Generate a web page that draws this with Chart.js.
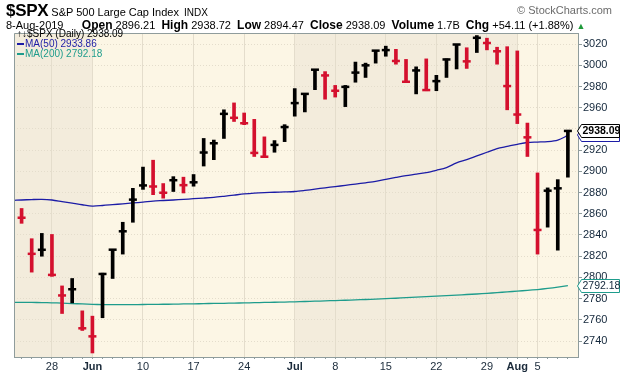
<!DOCTYPE html>
<html>
<head>
<meta charset="utf-8">
<title>$SPX Daily</title>
<script src="https://cdn.jsdelivr.net/npm/chart.js@4.4.0/dist/chart.umd.min.js"></script>
<style>
  html, body { margin: 0; padding: 0; background: #fff; }
  #wrap { position: relative; width: 620px; height: 376px; font-family: "Liberation Sans", Arial, sans-serif; color: #000; }
  #priceChart { position: absolute; left: 0; top: 0; }
  .hdr { position: absolute; white-space: nowrap; }
  #title { left: 6px; top: 1px; font-size: 11px; }
  #title .sym { font-size: 17px; font-weight: bold; letter-spacing: -0.3px; }
  #title .exch { font-size: 10px; margin-left: 5px; }
  #brand { right: 8px; top: 4px; font-size: 11px; color: #6b6b6b; }
  #quote { left: 6px; top: 18px; font-size: 11px; }
  #quote b { font-size: 12px; }
  #quote .up { color: #1f9a3a; font-size: 9px; }
  #legend { left: 17px; top: 29px; font-size: 10px; line-height: 10px; }
  #legend .mark { display: inline-block; width: 7px; height: 2px; vertical-align: middle; margin-right: 1px; }
</style>
</head>
<body>
<div id="wrap">
  <canvas id="priceChart" width="620" height="376"></canvas>
  <div class="hdr" id="title"><span class="sym">$SPX</span> S&amp;P 500 Large Cap Index<span class="exch">INDX</span></div>
  <div class="hdr" id="brand">© StockCharts.com</div>
  <div class="hdr" id="quote">8-Aug-2019 &nbsp; &nbsp; &nbsp;<b>Open</b> 2896.21 &nbsp;<b>High</b> 2938.72 &nbsp;<b>Low</b> 2894.47 &nbsp;<b>Close</b> 2938.09 &nbsp;<b>Volume</b> 1.7B &nbsp;<b>Chg</b> +54.11 (+1.88%) <span class="up">▲</span></div>
  <div class="hdr" id="legend">
    <div>↑↓$SPX (Daily) 2938.09</div>
    <div style="color:#1c1ca6"><span class="mark" style="background:#1c1ca6"></span>MA(50) 2933.86</div>
    <div style="color:#1e9c8c"><span class="mark" style="background:#1e9c8c"></span>MA(200) 2792.18</div>
  </div>
</div>

<script>
// Trading days shown on the chart (22-May-2019 .. 8-Aug-2019)
const dates = [
    'May 22', 'May 23', 'May 24', 'May 28', 'May 29', 'May 30', 'May 31',
    'Jun 3', 'Jun 4', 'Jun 5', 'Jun 6', 'Jun 7', 'Jun 10', 'Jun 11', 'Jun 12', 'Jun 13', 'Jun 14',
    'Jun 17', 'Jun 18', 'Jun 19', 'Jun 20', 'Jun 21', 'Jun 24', 'Jun 25', 'Jun 26', 'Jun 27', 'Jun 28',
    'Jul 1', 'Jul 2', 'Jul 3', 'Jul 5', 'Jul 8', 'Jul 9', 'Jul 10', 'Jul 11', 'Jul 12',
    'Jul 15', 'Jul 16', 'Jul 17', 'Jul 18', 'Jul 19', 'Jul 22', 'Jul 23', 'Jul 24', 'Jul 25', 'Jul 26',
    'Jul 29', 'Jul 30', 'Jul 31', 'Aug 1', 'Aug 2', 'Aug 5', 'Aug 6', 'Aug 7', 'Aug 8'
];

const highs = [
    2865.0, 2836.5, 2841.5, 2840.5, 2792.0, 2799.0, 2768.5,
    2763.5, 2804.0, 2826.5, 2852.0, 2884.0, 2904.0, 2910.5, 2888.5, 2895.0, 2894.5,
    2897.0, 2931.0, 2929.5, 2958.0, 2964.5, 2955.0, 2949.0, 2932.5, 2929.0, 2944.0,
    2978.0, 2973.0, 2996.0, 2994.0, 2981.0, 2981.0, 3003.0, 3002.0, 3014.0,
    3018.0, 3015.0, 3005.5, 2998.5, 3006.0, 2990.5, 3006.0, 3019.5, 3016.5, 3028.0,
    3025.5, 3017.0, 3017.5, 3013.5, 2945.5, 2898.5, 2884.4, 2892.2, 2938.7
];

const lows = [
    2851.0, 2805.0, 2820.0, 2801.0, 2766.0, 2776.0, 2750.0,
    2728.8, 2762.0, 2799.0, 2822.0, 2852.0, 2883.0, 2878.0, 2874.7, 2881.0, 2879.6,
    2886.0, 2905.0, 2911.0, 2931.0, 2947.0, 2944.0, 2914.0, 2913.0, 2918.0, 2928.0,
    2952.0, 2956.0, 2977.0, 2968.0, 2970.0, 2961.0, 2984.0, 2988.5, 3002.0,
    3008.5, 3001.0, 2984.3, 2973.0, 2976.0, 2976.0, 2988.5, 2996.5, 2997.0, 3012.0,
    3014.5, 3001.0, 2958.0, 2945.0, 2914.0, 2822.0, 2847.4, 2825.7, 2894.5
];

const closes = [
    2856.27, 2822.24, 2826.06, 2802.39, 2783.02, 2788.86, 2752.06,
    2744.45, 2803.27, 2826.15, 2843.49, 2873.34, 2886.73, 2885.72, 2879.84, 2891.64, 2886.98,
    2889.67, 2917.75, 2926.46, 2954.18, 2950.46, 2945.35, 2917.38, 2913.78, 2924.92, 2941.76,
    2964.33, 2973.01, 2995.82, 2990.41, 2975.95, 2979.63, 2993.07, 2999.91, 3013.77,
    3014.30, 3004.04, 2984.42, 2995.11, 2976.61, 2985.03, 3005.47, 3019.56, 3003.67, 3025.86,
    3020.97, 3013.18, 2980.38, 2953.56, 2932.05, 2844.74, 2881.77, 2883.98, 2938.09
];

// close of the session before the first bar (first bar is a down day)
const priorClose = 2864.36;

// moving averages; the first value belongs to the session before the first bar
// (its line runs in from the left edge of the plot)
const ma50 = [
    2872.6,
    2873.0, 2873.4, 2873.6, 2873.0, 2871.5, 2870.0, 2868.5,
    2867.3, 2867.8, 2868.6, 2869.4, 2870.2, 2871.0, 2872.0, 2872.5, 2873.0, 2873.6,
    2874.2, 2874.8, 2875.5, 2876.5, 2877.6, 2878.7, 2879.5, 2880.0, 2880.3, 2880.6,
    2881.0, 2882.0, 2883.2, 2884.5, 2885.6, 2886.8, 2888.0, 2889.2, 2890.5,
    2892.5, 2894.3, 2896.0, 2897.3, 2898.8, 2901.0, 2903.5, 2908.0, 2911.0, 2914.5,
    2918.0, 2921.5, 2923.5, 2925.5, 2927.2, 2927.6, 2928.0, 2929.5, 2933.86
];

const ma200 = [
    2776.6,
    2776.5, 2776.4, 2776.3, 2776.1, 2775.8, 2775.4, 2775.0,
    2774.6, 2774.4, 2774.3, 2774.3, 2774.4, 2774.5, 2774.6, 2774.7, 2774.8, 2775.0,
    2775.1, 2775.3, 2775.5, 2775.6, 2775.8, 2776.0, 2776.2, 2776.4, 2776.6, 2776.8,
    2777.0, 2777.3, 2777.6, 2777.9, 2778.2, 2778.5, 2778.8, 2779.2, 2779.6,
    2780.0, 2780.4, 2780.9, 2781.4, 2781.9, 2782.4, 2782.9, 2783.4, 2783.9, 2784.4,
    2785.0, 2785.7, 2786.4, 2787.1, 2787.8, 2788.6, 2789.6, 2790.8, 2792.18
];

const yTicks = [2740, 2760, 2780, 2800, 2820, 2840, 2860, 2880, 2900, 2920, 2940, 2960, 2980, 3000, 3020];
const xTickIdx = [3, 7, 12, 17, 22, 27, 31, 36, 41, 46, 49, 51];
const xTickText = ['28', 'Jun', '10', '17', '24', 'Jul', '8', '15', '22', '29', 'Aug', '5'];
const monthStarts = [7, 27, 49];

const FONT = '"Liberation Sans", Arial, sans-serif';
const RED = '#d4102e';
const BLACK = '#000000';
const GRID = '#e4ddcc';
const AXIS = '#8f9c9c';
const SHADE_DARK = '#f3ecdc';
const SHADE_LIGHT = '#fcf6e5';

const barColors = closes.map(function(c, i) {
    const prev = i === 0 ? priorClose : closes[i - 1];
    return c < prev ? RED : BLACK;
});

// alternating month shading behind the plot
const monthShading = {
    id: 'monthShading',
    beforeDraw(chart) {
        const { ctx, chartArea, scales } = chart;
        const edges = [scales.x.min].concat(monthStarts, [scales.x.max]);
        ctx.save();
        for (let k = 0; k < edges.length - 1; k++) {
            const x0 = scales.x.getPixelForValue(edges[k]);
            const x1 = scales.x.getPixelForValue(edges[k + 1]);
            ctx.fillStyle = k % 2 === 0 ? SHADE_DARK : SHADE_LIGHT;
            ctx.fillRect(x0, chartArea.top, x1 - x0, chartArea.bottom - chartArea.top);
        }
        ctx.restore();
    }
};

// left and top frame lines
const plotFrame = {
    id: 'plotFrame',
    afterDatasetsDraw(chart) {
        const { ctx, chartArea } = chart;
        ctx.save();
        ctx.strokeStyle = AXIS;
        ctx.lineWidth = 1;
        ctx.beginPath();
        ctx.moveTo(chartArea.left + 0.5, chartArea.bottom);
        ctx.lineTo(chartArea.left + 0.5, chartArea.top + 0.5);
        ctx.lineTo(chartArea.right, chartArea.top + 0.5);
        ctx.stroke();
        ctx.restore();
    }
};

// value tags on the right axis
function drawTag(ctx, x, y, text, color, bold) {
    const w = 38, h = 13;
    ctx.beginPath();
    ctx.moveTo(x - 4, y);
    ctx.lineTo(x, y - h / 2);
    ctx.lineTo(x + w, y - h / 2);
    ctx.lineTo(x + w, y + h / 2);
    ctx.lineTo(x, y + h / 2);
    ctx.closePath();
    ctx.fillStyle = '#ffffff';
    ctx.fill();
    ctx.strokeStyle = color;
    ctx.lineWidth = 1;
    ctx.stroke();
    ctx.fillStyle = bold ? '#000000' : '#12263a';
    ctx.font = (bold ? 'bold 10.5px ' : '10.5px ') + FONT;
    ctx.textBaseline = 'middle';
    ctx.textAlign = 'left';
    ctx.fillText(text, x + 1, y + 0.5);
}

const valueTags = {
    id: 'valueTags',
    afterDraw(chart) {
        const { ctx, chartArea, scales } = chart;
        const x = chartArea.right + 3.5;
        const last = closes.length - 1;
        ctx.save();
        drawTag(ctx, x, Math.round(scales.y.getPixelForValue(ma200[ma200.length - 1])), ma200[ma200.length - 1].toFixed(2), '#1e9c8c', false);
        drawTag(ctx, x, Math.round(scales.y.getPixelForValue(ma50[ma50.length - 1])), ma50[ma50.length - 1].toFixed(2), '#1c1ca6', false);
        drawTag(ctx, x, Math.round(scales.y.getPixelForValue(closes[last])), closes[last].toFixed(2), '#000000', true);
        ctx.restore();
    }
};

function initializePriceChart() {
    const ctx = document.getElementById('priceChart');
    if (!ctx) return;

    new Chart(ctx, {
        type: 'bar',
        data: {
            datasets: [
                {
                    type: 'bar',
                    label: 'High-Low',
                    data: dates.map(function(d, i) { return { x: i, y: [lows[i], highs[i]] }; }),
                    backgroundColor: barColors,
                    borderWidth: 0,
                    barThickness: 3,
                    order: 1
                },
                {
                    type: 'line',
                    label: 'Close',
                    data: closes.map(function(c, i) { return { x: i, y: c }; }),
                    showLine: false,
                    pointStyle: 'line',
                    pointRadius: 4,
                    pointBorderWidth: 2.5,
                    pointBorderColor: barColors,
                    order: 0
                },
                {
                    type: 'line',
                    label: 'MA(50)',
                    data: ma50.map(function(v, i) { return { x: i - 1, y: v }; }),
                    borderColor: '#1c1ca6',
                    borderWidth: 1.3,
                    pointRadius: 0,
                    tension: 0.3,
                    order: 2
                },
                {
                    type: 'line',
                    label: 'MA(200)',
                    data: ma200.map(function(v, i) { return { x: i - 1, y: v }; }),
                    borderColor: '#1e9c8c',
                    borderWidth: 1.3,
                    pointRadius: 0,
                    tension: 0.3,
                    order: 3
                }
            ]
        },
        options: {
            responsive: false,
            animation: false,
            events: [],
            layout: { padding: { top: 33, left: 14, right: 0, bottom: 0 } },
            plugins: {
                legend: { display: false },
                tooltip: { enabled: false }
            },
            scales: {
                x: {
                    type: 'linear',
                    offset: false,
                    min: -0.75,
                    max: 55.0,
                    afterBuildTicks: function(scale) {
                        scale.ticks = dates.map(function(d, i) { return { value: i }; });
                    },
                    afterFit: function(scale) { scale.height = 19; },
                    ticks: {
                        autoSkip: false,
                        maxRotation: 0,
                        padding: 1,
                        color: '#1a2a3a',
                        font: function(c) {
                            const v = c.tick ? c.tick.value : -1;
                            return { family: FONT, size: 11, weight: monthStarts.includes(v) ? 'bold' : 'normal' };
                        },
                        callback: function(v) {
                            const k = xTickIdx.indexOf(v);
                            return k < 0 ? '' : xTickText[k];
                        }
                    },
                    grid: {
                        offset: false,
                        color: function(c) {
                            return c.tick && xTickIdx.includes(c.tick.value) ? GRID : 'rgba(0,0,0,0)';
                        },
                        tickColor: AXIS,
                        tickLength: 2
                    },
                    border: { color: AXIS }
                },
                y: {
                    position: 'right',
                    min: 2725,
                    max: 3030.4,
                    afterBuildTicks: function(scale) {
                        scale.ticks = yTicks.map(function(v) { return { value: v }; });
                    },
                    afterFit: function(scale) { scale.width = 42; },
                    ticks: {
                        padding: 1,
                        color: '#12263a',
                        font: { family: FONT, size: 11 },
                        callback: function(v) { return String(v); }
                    },
                    grid: {
                        color: GRID,
                        tickColor: AXIS,
                        tickLength: 4
                    },
                    border: { color: AXIS, dash: [1, 2] }
                }
            }
        },
        plugins: [monthShading, plotFrame, valueTags]
    });
}

document.addEventListener('DOMContentLoaded', function() {
    initializePriceChart();
});
</script>
</body>
</html>
